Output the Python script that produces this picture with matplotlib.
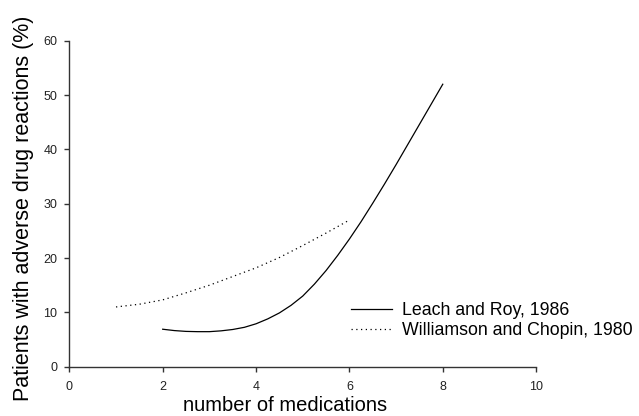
import matplotlib
matplotlib.use("Agg")
import matplotlib.pyplot as plt

plt.rcParams['font.family'] = ['Liberation Sans', 'DejaVu Sans']

# Leach and Roy, 1986
leach_x = [2.0, 2.25, 2.5, 2.75, 3.0, 3.25, 3.5, 3.75, 4.0, 4.25, 4.5, 4.75,
           5.0, 5.25, 5.5, 5.75, 6.0, 6.25, 6.5, 6.75, 7.0, 7.25, 7.5, 7.75, 8.0]
leach_y = [6.9, 6.65, 6.5, 6.45, 6.45, 6.6, 6.85, 7.25, 7.9, 8.8, 9.9, 11.3,
           13.0, 15.2, 17.7, 20.5, 23.5, 26.7, 30.1, 33.6, 37.2, 40.9, 44.6, 48.3, 52.0]
# Williamson and Chopin, 1980
will_x = [1.0, 1.5, 2.0, 2.5, 3.0, 3.5, 4.0, 4.5, 5.0, 5.5, 6.0]
will_y = [11.0, 11.5, 12.3, 13.6, 15.0, 16.6, 18.2, 20.1, 22.3, 24.6, 27.0]

xticks = [0, 2, 4, 6, 8, 10]
yticks = [0, 10, 20, 30, 40, 50, 60]

fig = plt.figure(figsize=(6.39, 4.16), dpi=100)
ax = fig.add_axes([0.1085, 0.1185, 0.7305, 0.7835])

ax.plot(leach_x, leach_y, color='black', lw=0.9, label='Leach and Roy, 1986')
ax.plot(will_x, will_y, color='black', lw=0.9, linestyle=(0, (1, 2.8)),
        label='Williamson and Chopin, 1980')

ax.set_xlim(0, 10)
ax.set_ylim(0, 60)
ax.set_xticks(xticks)
ax.set_yticks(yticks)
for s in ['top', 'right']:
    ax.spines[s].set_visible(False)
for s in ['left', 'bottom']:
    ax.spines[s].set_color('#333333')
    ax.spines[s].set_linewidth(1.0)
ax.tick_params(direction='out', length=3.5, width=1, color='#333333',
               labelsize=9, labelcolor='#222222')
ax.tick_params(axis='x', pad=7)
ax.tick_params(axis='y', pad=5)

fig.text(0.036, 0.5, 'Patients with adverse drug reactions (%)', rotation=90,
         ha='center', va='center', fontsize=15.5)
fig.text(0.4455, 0.026, 'number of medications', ha='center', va='center', fontsize=14.5)

leg = ax.legend(loc='upper left', bbox_to_anchor=(0.603, 0.198), frameon=False,
                fontsize=12.8, handlelength=2.3, handletextpad=0.56,
                labelspacing=0.15, borderaxespad=0, borderpad=0)

fig.savefig('out.png', dpi=100)
